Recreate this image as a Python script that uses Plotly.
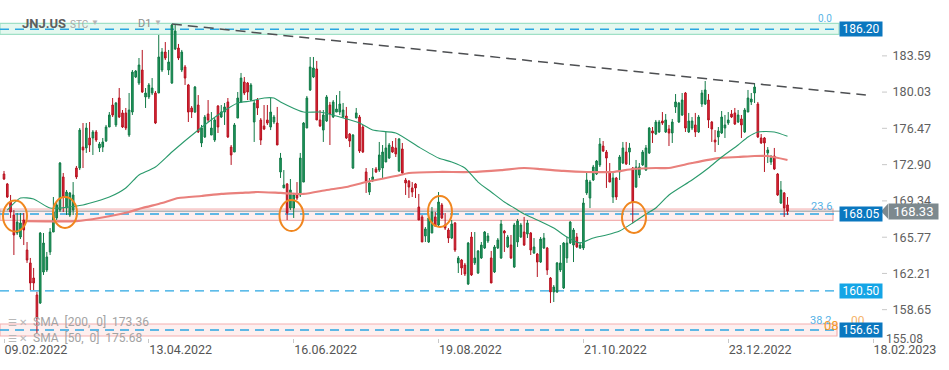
import plotly.graph_objects as go

# ---------------- data ----------------
TICK_IDX = [0, 44, 88, 132, 176, 220, 264]
TICK_LABELS = ["09.02.2022", "13.04.2022", "16.06.2022", "19.08.2022",
               "21.10.2022", "23.12.2022", "18.02.2023"]
Y_TICKS = [183.59, 180.03, 176.47, 172.90, 169.34, 165.77, 162.21, 158.65]
Y_TICK_LOW = "155.08"

OPEN = [
171.98, 171.00, 169.23, 167.95, 166.18, 165.79, 167.46, 164.51, 163.24, 161.76,
160.09, 159.30, 162.35, 162.55, 164.32, 166.28, 167.66, 168.44, 171.69, 168.64,
167.95, 168.44, 172.57, 172.57, 174.63, 174.54, 175.52, 175.52, 176.11, 174.54,
174.63, 175.22, 176.60, 178.76, 176.80, 179.45, 177.98, 177.98, 175.81, 178.07,
181.51, 180.92, 182.20, 179.55, 179.55, 179.94, 179.94, 179.94, 182.20, 183.97,
182.20, 180.92, 184.26, 184.36, 182.20, 182.50, 180.73, 178.47, 178.07, 178.76,
175.03, 175.62, 177.88, 175.81, 175.32, 178.66, 177.58, 178.07, 179.06, 174.63,
174.14, 177.48, 179.06, 181.02, 180.92, 179.25, 177.09, 179.25, 177.29, 176.70,
177.29, 176.60, 177.09, 176.99, 172.18, 170.61, 171.00, 168.64, 168.64, 169.92,
169.92, 171.19, 176.50, 180.24, 181.51, 182.30, 177.29, 176.30, 177.19, 178.76,
177.58, 178.07, 178.07, 177.58, 177.68, 175.91, 172.57, 177.48, 177.58, 176.60,
172.18, 170.21, 171.39, 172.47, 172.37, 172.57, 173.16, 173.55, 174.63, 174.54,
172.28, 174.44, 171.39, 171.29, 170.61, 171.00, 168.74, 167.76, 165.89, 165.30,
166.18, 167.76, 166.97, 168.94, 166.97, 166.48, 165.69, 167.17, 163.24, 163.53,
163.04, 161.17, 165.79, 163.24, 162.25, 163.73, 164.71, 165.40, 163.73, 162.35,
164.71, 163.73, 166.38, 164.81, 165.00, 162.84, 165.30, 165.79, 166.28, 166.09,
166.18, 164.22, 164.12, 163.33, 164.71, 164.71, 161.76, 160.39, 160.39, 162.55,
160.78, 163.73, 165.20, 165.00, 165.79, 164.71, 164.71, 170.12, 169.62, 171.39,
171.98, 172.87, 174.73, 174.14, 172.18, 169.72, 171.59, 172.18, 173.06, 174.14,
174.14, 172.57, 170.70, 171.88, 172.87, 172.37, 174.05, 176.21, 175.91, 176.11,
177.19, 176.11, 176.40, 176.01, 178.57, 177.09, 177.78, 179.94, 176.11, 176.50,
176.80, 176.11, 178.86, 178.86, 179.25, 177.09, 175.32, 175.62, 176.01, 176.50,
176.99, 177.88, 177.98, 177.09, 177.39, 176.11, 178.07, 179.06, 179.94, 178.86,
175.52, 175.52, 174.05, 173.16, 173.75, 171.98, 169.13, 170.12, 168.94]

HIGH = [
172.28, 171.10, 169.92, 168.44, 168.15, 168.15, 168.15, 165.30, 163.73, 162.75,
160.39, 166.28, 166.18, 164.32, 166.67, 169.72, 169.23, 173.16, 172.08, 170.41,
170.21, 171.19, 172.77, 176.50, 176.99, 176.99, 177.09, 176.30, 176.30, 175.13,
175.52, 176.80, 178.07, 179.45, 179.06, 180.43, 178.27, 178.47, 179.94, 182.20,
182.20, 183.38, 184.17, 180.43, 180.92, 181.41, 180.14, 185.64, 184.36, 184.95,
184.17, 186.72, 186.72, 184.76, 184.17, 182.69, 180.83, 178.66, 180.63, 179.74,
176.80, 177.78, 179.25, 178.07, 177.48, 178.76, 178.76, 178.96, 179.45, 174.83,
176.99, 180.04, 181.91, 181.51, 181.02, 180.92, 179.25, 179.45, 177.48, 178.76,
178.76, 179.45, 177.78, 178.57, 174.05, 172.37, 171.10, 171.49, 170.12, 171.19,
174.05, 177.09, 179.65, 183.48, 183.48, 183.09, 178.27, 178.27, 179.74, 179.06,
179.25, 179.74, 180.14, 178.96, 178.57, 176.01, 175.91, 178.47, 177.78, 176.80,
172.57, 171.59, 172.57, 172.67, 175.13, 174.83, 176.11, 175.03, 175.22, 175.52,
175.52, 175.03, 171.59, 171.39, 171.19, 171.10, 170.02, 167.95, 166.77, 168.15,
168.74, 168.25, 170.21, 169.13, 168.15, 166.67, 167.46, 167.26, 163.92, 163.63,
163.24, 165.30, 166.28, 166.28, 164.51, 165.30, 166.38, 166.18, 164.42, 165.00,
165.69, 167.46, 166.48, 165.99, 165.99, 167.17, 167.56, 167.17, 167.76, 167.46,
166.28, 165.69, 164.22, 165.79, 166.18, 164.81, 161.86, 161.07, 163.33, 165.00,
165.30, 165.79, 167.36, 166.67, 166.18, 165.30, 169.62, 172.18, 171.39, 172.87,
173.36, 175.52, 175.22, 174.34, 173.06, 172.18, 171.69, 173.85, 175.13, 175.13,
175.03, 172.67, 173.36, 173.06, 174.34, 174.83, 176.60, 176.60, 177.29, 177.29,
178.07, 177.88, 176.80, 177.39, 179.84, 179.06, 179.94, 180.04, 177.98, 177.58,
177.98, 177.78, 180.24, 181.12, 179.84, 177.19, 176.30, 176.60, 178.17, 177.78,
178.07, 178.27, 178.47, 178.27, 177.78, 178.47, 180.24, 179.94, 180.92, 179.06,
175.91, 175.62, 174.63, 173.85, 174.54, 172.08, 171.29, 170.21, 169.72]

LOW = [
171.39, 169.62, 167.66, 164.02, 165.99, 165.59, 165.00, 163.24, 160.58, 160.58,
156.36, 159.21, 162.06, 162.35, 164.02, 166.28, 167.46, 168.25, 168.25, 167.95,
167.76, 167.95, 171.49, 172.37, 172.57, 174.05, 174.14, 173.85, 175.13, 174.14,
174.14, 175.13, 176.60, 177.58, 176.60, 177.48, 176.50, 176.30, 175.62, 177.78,
181.41, 180.73, 179.94, 178.47, 179.35, 179.74, 176.89, 179.94, 182.00, 183.18,
181.71, 180.83, 184.17, 183.18, 182.00, 180.73, 177.09, 177.48, 177.98, 176.01,
174.63, 175.52, 177.09, 175.81, 175.13, 176.01, 177.48, 176.80, 175.52, 172.87,
174.14, 177.48, 179.06, 179.74, 179.25, 179.15, 175.13, 177.78, 174.83, 176.30,
176.80, 176.30, 176.89, 174.83, 171.59, 170.61, 167.46, 168.44, 167.66, 169.43,
169.72, 171.19, 176.50, 180.14, 181.41, 177.29, 176.60, 175.13, 177.09, 174.83,
177.48, 178.07, 177.78, 177.48, 175.42, 174.63, 172.47, 177.48, 174.05, 174.05,
170.12, 169.92, 171.19, 172.08, 172.18, 171.59, 173.16, 173.46, 174.05, 173.65,
172.18, 171.98, 169.92, 169.62, 169.72, 169.62, 167.46, 165.30, 165.30, 165.20,
166.18, 166.77, 166.87, 167.56, 166.48, 165.20, 165.59, 164.32, 162.25, 162.06,
161.96, 161.07, 161.96, 163.04, 162.16, 163.63, 164.61, 165.20, 161.27, 162.25,
164.61, 163.63, 164.32, 164.71, 163.63, 162.75, 164.81, 165.69, 164.91, 165.69,
164.02, 164.12, 161.86, 163.24, 164.61, 162.06, 159.30, 159.40, 160.29, 162.35,
160.68, 163.24, 165.10, 163.33, 164.71, 164.61, 164.51, 169.92, 168.64, 171.29,
171.88, 172.67, 174.14, 170.61, 171.19, 169.13, 169.43, 171.39, 172.96, 172.87,
172.87, 167.17, 170.61, 171.59, 172.77, 172.28, 173.95, 175.03, 175.81, 176.01,
176.80, 176.01, 174.73, 175.03, 177.98, 176.99, 177.68, 176.11, 176.01, 176.30,
175.62, 176.01, 178.57, 178.76, 176.50, 175.13, 174.14, 174.83, 175.91, 175.52,
176.80, 177.48, 176.80, 176.99, 175.52, 176.01, 178.07, 178.76, 178.96, 175.52,
174.93, 172.18, 173.06, 172.87, 172.37, 169.82, 169.03, 167.76, 167.95]

CLOSE = [
171.49, 169.72, 168.25, 165.99, 167.26, 167.17, 166.48, 163.53, 161.27, 161.27,
157.83, 166.18, 165.20, 163.83, 166.28, 168.25, 168.94, 173.06, 169.72, 170.21,
170.12, 169.92, 171.69, 176.30, 174.34, 176.50, 174.83, 176.11, 175.32, 174.93,
175.13, 176.60, 177.78, 177.78, 178.96, 177.58, 176.60, 176.50, 178.27, 182.00,
182.10, 182.69, 180.04, 179.94, 180.73, 180.43, 176.99, 183.48, 183.97, 183.38,
182.99, 186.62, 186.03, 183.38, 183.97, 181.41, 178.07, 178.07, 180.53, 176.11,
176.50, 177.58, 177.29, 176.50, 177.29, 176.60, 178.07, 178.57, 175.62, 173.85,
176.80, 179.45, 181.41, 179.94, 180.04, 180.73, 178.96, 178.47, 175.32, 176.40,
176.99, 178.07, 177.58, 174.83, 173.55, 170.90, 168.15, 170.41, 169.92, 169.62,
173.55, 176.99, 179.45, 182.50, 182.40, 177.29, 176.70, 177.78, 179.55, 177.88,
179.06, 178.37, 178.86, 178.27, 175.52, 175.22, 175.81, 177.98, 174.24, 174.14,
171.19, 171.10, 171.69, 172.18, 173.85, 174.14, 174.54, 174.83, 174.14, 173.95,
175.42, 172.08, 171.10, 170.70, 170.21, 170.61, 167.46, 165.30, 166.58, 167.66,
168.25, 166.87, 169.23, 167.66, 166.67, 165.69, 167.07, 164.51, 163.73, 162.75,
162.16, 165.20, 162.06, 163.73, 164.42, 165.00, 166.28, 165.89, 161.27, 164.81,
165.50, 167.07, 166.18, 165.79, 163.73, 166.97, 167.36, 166.97, 165.00, 167.17,
164.51, 164.81, 163.33, 165.59, 165.69, 162.55, 160.39, 160.88, 163.24, 163.24,
165.20, 165.20, 167.26, 166.48, 164.81, 165.00, 169.13, 171.39, 171.19, 172.67,
173.26, 174.93, 174.24, 173.55, 171.19, 171.59, 169.72, 173.65, 174.54, 172.96,
174.54, 169.23, 172.67, 172.67, 174.14, 174.54, 176.50, 176.01, 177.09, 177.09,
176.99, 177.29, 176.01, 177.09, 179.06, 178.96, 179.25, 176.50, 177.19, 177.19,
176.11, 177.58, 179.94, 180.24, 177.29, 176.40, 175.13, 176.21, 177.58, 176.80,
177.29, 177.58, 176.89, 177.78, 176.80, 178.27, 179.45, 179.35, 180.53, 175.62,
175.03, 175.03, 174.34, 173.55, 172.47, 169.92, 170.41, 168.64, 168.33]

SMA50_IDX = [1, 5, 9, 14, 24, 32, 37, 40, 41, 46, 51, 59, 65, 71, 75, 79, 82, 84,
             91, 96, 102, 108, 112, 119, 126, 132, 136, 140, 144, 148, 152, 155,
             158, 162, 167, 171, 175, 179, 183, 187, 191, 195, 198, 202, 209, 214,
             218, 223, 226, 229, 234, 238]
SMA50_VAL = [168.44, 169.62, 169.53, 168.64, 168.94, 169.72, 170.61, 171.59, 171.88,
             172.67, 174.14, 176.30, 177.78, 178.96, 179.15, 179.45, 179.45, 179.06,
             178.07, 178.07, 177.58, 176.99, 176.30, 176.01, 174.63, 173.55, 173.16,
             172.57, 171.19, 170.21, 169.23, 168.64, 168.05, 167.46, 166.67, 165.79,
             165.20, 165.69, 165.99, 166.38, 167.17, 168.05, 168.64, 169.92, 171.39,
             172.57, 173.65, 174.83, 175.62, 176.11, 176.11, 175.68]

SMA200_IDX = [7, 22, 29, 38, 42, 48, 53, 60, 66, 72, 77, 84, 91, 98, 104, 110, 119,
              123, 132, 142, 151, 158, 163, 170, 177, 185, 191, 198, 202, 209, 217,
              223, 228, 232, 238]
SMA200_VAL = [167.36, 167.36, 167.66, 168.25, 168.64, 169.13, 169.62, 169.82, 170.02,
              170.12, 170.21, 170.12, 170.02, 170.41, 170.70, 171.19, 171.78, 172.08,
              172.18, 172.18, 172.37, 172.57, 172.47, 172.28, 172.18, 172.18, 172.47,
              172.57, 172.57, 173.06, 173.55, 173.65, 173.75, 173.75, 173.36]

TREND_IDX = [51.0, 261.8]
TREND_VAL = [186.72, 179.74]

LEVELS = [186.20, 168.05, 160.50, 156.65]
LEVEL_TEXT = ["186.20", "168.05", "160.50", "156.65"]
ZONE_TOP = [186.79, 168.54, 157.24]
ZONE_BOT = [185.71, 167.43, 156.06]
LAST_PRICE = 168.33

CIRCLE_IDX = [3.34, 18.53, 87.33, 132.44, 191.37]
CIRCLE_VAL = [167.85, 168.20, 167.90, 168.30, 167.71]

assert len(OPEN) == len(HIGH) == len(LOW) == len(CLOSE), (len(OPEN), len(HIGH), len(LOW), len(CLOSE))
X = list(range(len(OPEN)))

# ---------------- layout geometry ----------------
W, H = 949, 370
MB = 32
PH = H - MB
Y_TOP, Y_BOT = 189.08, 155.865
X_LO, X_HI = -1.215, 287.06


def px(x):
    return x / W


def py(y):
    return 1 - y / PH


UNIT = (Y_TOP - Y_BOT) / PH  # price per pixel
XUNIT = (X_HI - X_LO) / W

fig = go.Figure()
fig.add_trace(go.Candlestick(
    x=X, open=OPEN, high=HIGH, low=LOW, close=CLOSE,
    increasing=dict(fillcolor="#1f9a5e", line=dict(color="#127a47", width=1)),
    decreasing=dict(fillcolor="#e0263a", line=dict(color="#b5121f", width=1)),
    whiskerwidth=0, hoverinfo="skip", showlegend=False))
fig.add_trace(go.Scatter(x=SMA200_IDX, y=SMA200_VAL, mode="lines",
                         line=dict(color="#e9807c", width=2.2, shape="spline", smoothing=0.6),
                         hoverinfo="skip", showlegend=False))
fig.add_trace(go.Scatter(x=SMA50_IDX, y=SMA50_VAL, mode="lines",
                         line=dict(color="#2a9a6c", width=1.1, shape="spline", smoothing=0.6),
                         hoverinfo="skip", showlegend=False))

shapes = []
zone_right = [839, 833, 837]
zone_fill = ["rgba(214,244,231,0.65)", "rgba(252,228,228,0.6)", "rgba(252,228,228,0.6)"]
zone_line = ["#9fe0c6", "#f3b0b0", "#f3b0b0"]
for t, b, r, f, l in zip(ZONE_TOP, ZONE_BOT, zone_right, zone_fill, zone_line):
    shapes.append(dict(type="rect", xref="paper", yref="y", x0=0, x1=px(r), y0=b, y1=t,
                       fillcolor=f, line=dict(color=l, width=1.2), layer="below"))
for i, lv in enumerate(LEVELS):
    shapes.append(dict(type="line", xref="paper", yref="y", x0=0, x1=px(837), y0=lv, y1=lv,
                       line=dict(color="#2aa6e2", width=1.4, dash="9px,6px"), layer="below"))
shapes.append(dict(type="line", xref="paper", yref="y", x0=0, x1=px(882), y0=LAST_PRICE,
                   y1=LAST_PRICE, line=dict(color="#8d979b", width=1), layer="below"))
shapes.append(dict(type="line", xref="x", yref="y", x0=TREND_IDX[0], x1=TREND_IDX[1],
                   y0=TREND_VAL[0], y1=TREND_VAL[1],
                   line=dict(color="#4d4f52", width=1.5, dash="10px,6px")))
rx, ry = 12 * XUNIT, 15.5 * UNIT
for cx, cy in zip(CIRCLE_IDX, CIRCLE_VAL):
    shapes.append(dict(type="circle", xref="x", yref="y", x0=cx - rx, x1=cx + rx,
                       y0=cy - ry, y1=cy + ry, line=dict(color="#f0861e", width=2)))
for tv in Y_TICKS:
    shapes.append(dict(type="line", xref="paper", yref="y", x0=px(882), x1=px(887), y0=tv, y1=tv,
                       line=dict(color="#c8c8c8", width=1)))
# arrow of last price tag
ah = 7.5 * UNIT
shapes.append(dict(type="path", xref="paper", yref="y",
                   path=f"M {px(881)},{LAST_PRICE} L {px(888)},{LAST_PRICE + ah} "
                        f"L {px(888)},{LAST_PRICE - ah} Z",
                   fillcolor="#7d898e", line=dict(width=0)))

FONT = "Roboto, Arial, sans-serif"
ann = []


def text(x, y, s, size=12, color="#666", anchor="left", yref="paper", **kw):
    ann.append(dict(x=px(x), y=y if yref == "y" else py(y), xref="paper", yref=yref,
                    text=s, showarrow=False, xanchor=anchor, yanchor="middle",
                    font=dict(family=FONT, size=size, color=color), **kw))


# header
text(20, 23, "<b>JNJ.US</b>", 13, "#5e5e5e")
text(68, 24, "STC", 10, "#a9a9a9")
text(95, 22, "▼", 8, "#b5b5b5", "center")
text(136, 23, "D1", 11, "#8c8c8c")
text(158, 22, "▼", 8, "#b5b5b5", "center")

# fib texts
text(825, 19, "0.0", 10, "#5ab5e6", "center")
text(821, 206, "23.6", 11, "#56b2e6", "center")
text(820, 320, "38.2", 11, "#56b2e6", "center")
text(831, 325, "08", 13, "#f39a2c", "center")
text(858, 321, "00", 12, "#f5b36a", "center")

# SMA legend
text(6, 322, "☰ ✕", 10, "#b8b8b8")
text(6, 338, "☰ ✕", 10, "#b8b8b8")
text(31, 322, "SMA  [200,  0]  173.36", 12, "#a3a3a3")
text(31, 338, "SMA  [50,  0]  175.68", 12, "#a3a3a3")

# level tags
tag_bg = ["#0a77bf", "#0a77bf", "#14a5e6", "#0a77bf"]
for lv, s, bg in zip(LEVELS, LEVEL_TEXT, tag_bg):
    text(839, lv, s, 12, "white", "left", yref="y", bgcolor=bg, width=42, height=14,
         borderpad=0)
text(888, LAST_PRICE, "168.33", 13, "white", "left", yref="y", bgcolor="#7d898e",
     width=49, height=15, borderpad=0)
text(925, 339, Y_TICK_LOW, 12, "#606060", "right")

fig.update_layout(
    width=W, height=H, margin=dict(l=0, r=0, t=0, b=MB, autoexpand=False),
    paper_bgcolor="white", plot_bgcolor="white",
    shapes=shapes, annotations=ann, showlegend=False,
    xaxis=dict(range=[X_LO, X_HI], rangeslider=dict(visible=False), showgrid=False,
               zeroline=False, showline=False, tickmode="array", tickvals=TICK_IDX,
               ticktext=TICK_LABELS, ticks="outside", ticklen=4, tickcolor="#c8c8c8",
               ticklabelposition="outside right", automargin=False,
               tickfont=dict(family=FONT, size=12.5, color="#555")),
    yaxis=dict(range=[Y_BOT, Y_TOP], side="right", showgrid=False, zeroline=False,
               showline=False, tickmode="array", tickvals=Y_TICKS,
               ticktext=[f"{v:.2f}" for v in Y_TICKS], ticks="",
               ticklabelposition="inside", ticklabelstandoff=15, automargin=False,
               tickfont=dict(family=FONT, size=12.5, color="#606060")),
)
fig.write_html("out.html", config={"displayModeBar": False},
               post_script="document.body.style.margin='0';")
